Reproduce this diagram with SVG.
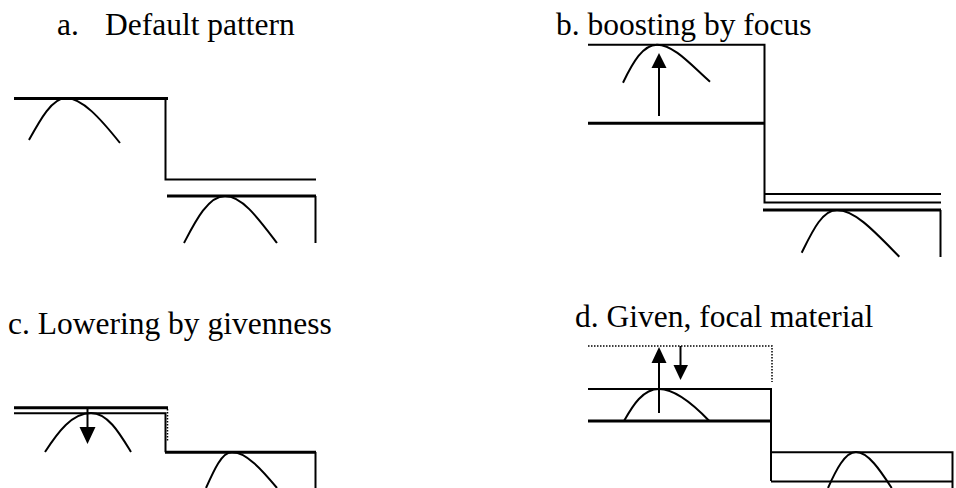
<svg xmlns="http://www.w3.org/2000/svg" width="956" height="488" viewBox="0 0 956 488">
<style>
text{font-family:"Liberation Serif","Times New Roman",serif;font-size:31.5px;fill:#000}
.l{stroke:#000;stroke-width:2;fill:none}
.t{stroke:#000;stroke-width:3;fill:none}
.c{stroke:#000;stroke-width:2;fill:none}
.d{stroke:#000;stroke-width:1.5;fill:none;stroke-dasharray:1.5 1.5}
.h{fill:#000}
</style>
<rect width="956" height="488" fill="#fff"/>
<g id="labels">
<text x="57" y="35">a.</text>
<text x="105" y="35">Default pattern</text>
<text x="556" y="35">b. boosting by focus</text>
<text x="8" y="334">c. Lowering by givenness</text>
<text x="575" y="327">d. Given, focal material</text>
</g>
<g id="panel-a">
<path class="t" d="M14 98.5H168"/>
<path class="l" d="M165.5 98V179.5H316"/>
<path class="t" d="M167 196H316"/>
<path class="l" d="M315.5 196V243"/>
<path class="c" d="M29 140C40 120 52 98 66 98C82 98 100 118 120 143"/>
<path class="c" d="M184 243C195 222 208 196 225 196C242 196 258 218 277 243"/>
</g>
<g id="panel-b">
<path class="l" d="M588 44.7H764.5V202.5H941"/>
<path class="t" d="M588 123.3H764"/>
<path class="l" d="M764 194H941"/>
<path class="t" d="M763 210H941"/>
<path class="l" d="M940.5 210V257"/>
<path class="c" d="M623 82.7C633 62 643 44.7 657 44.7C674 44.7 692 66 710 81.7"/>
<path class="c" d="M801.7 252.7C812 232 822 210 837 210C855 210 875 232 899.3 256.7"/>
</g>
<g id="panel-c">
<path class="t" d="M14 407.7H168"/>
<path class="l" d="M14 413.3H165.5V452.3"/>
<path class="d" d="M167.5 409V442"/>
<path class="t" d="M165 452.3H316"/>
<path class="l" d="M315.5 452V488"/>
<path class="c" d="M45 452C58 432 72 413 91 413C108 413 120 434 131 452"/>
<path class="c" d="M206 488C214 470 222 452 232 452C246 452 262 470 277 488"/>
</g>
<g id="panel-d">
<path class="d" d="M588 346H772V382"/>
<path class="l" d="M588 389H771V481"/>
<path class="t" d="M588 421H772"/>
<path class="l" d="M771 452.3H952.5V488"/>
<path class="l" d="M771 481.5H952.5"/>
<path class="c" d="M624 421C633 405 643 389 659 389C676 389 694 405 709.3 421"/>
<path class="c" d="M828 488C836 470 845 452 856 452C868 452 880 470 891.7 488"/>
</g>
<g id="connectors">
<path class="l" d="M659 116V67"/>
<polygon class="h" points="651.5,68 666.5,68 659,53"/>
<path class="l" d="M87.5 407V428"/>
<polygon class="h" points="79.5,427 95.5,427 87.5,444"/>
<path class="l" d="M659 413V362"/>
<polygon class="h" points="651.5,363 666.5,363 659,347"/>
<path class="l" d="M680.5 346V366"/>
<polygon class="h" points="673.5,365 688,365 680.5,380"/>
</g>
</svg>
